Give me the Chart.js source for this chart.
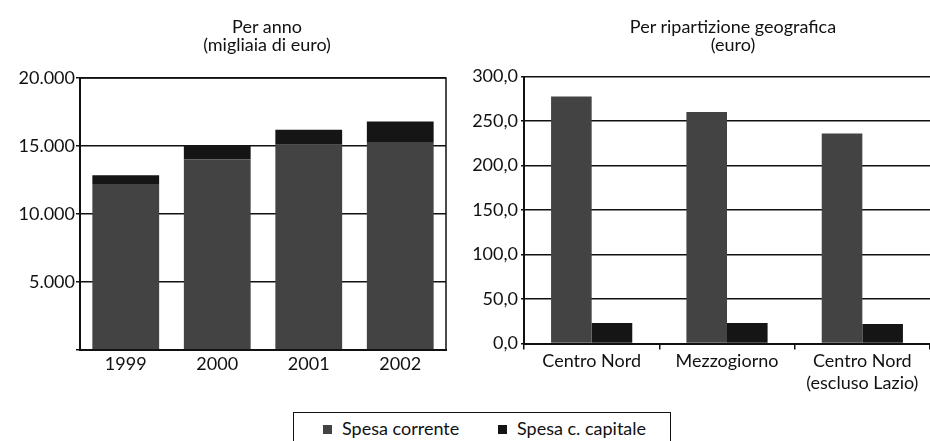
<!DOCTYPE html>
<html>
<head>
<meta charset="utf-8">
<script src="https://cdn.jsdelivr.net/npm/chart.js@4/dist/chart.umd.min.js"></script>
<style>
    body { margin: 0; background: #fff; }
    #wrap { position: relative; width: 930px; height: 441px; overflow: hidden; font-family: Lato, "DejaVu Sans", sans-serif; color: #111; }
    #left { position: absolute; left: 0; top: 0; }
    #right { position: absolute; left: 465px; top: 0; }
    .title {
        position: absolute; top: 17px; width: 300px; margin-left: -150px;
        text-align: center; font-size: 18px; line-height: 18px;
    }
    #legend {
        position: absolute; left: 293px; top: 412px; width: 378px; height: 60px;
        border: 1px solid #111; box-sizing: border-box; font-size: 18px;
    }
    .item { position: absolute; top: 4px; }
    .box { display: inline-block; width: 9px; height: 9px; margin-right: 10px; vertical-align: 1px; }
</style>
</head>
<body>
<div id="wrap">
    <canvas id="left" width="465" height="400"></canvas>
    <canvas id="right" width="465" height="400"></canvas>
    <div class="title" style="left: 267px;">Per anno<br>(migliaia di euro)</div>
    <div class="title" style="left: 733px;">Per ripartizione geografica<br>(euro)</div>
    <div id="legend">
        <span class="item" style="left: 29px;"><span class="box" id="box-corrente"></span>Spesa corrente</span>
        <span class="item" style="left: 204px;"><span class="box" id="box-capitale"></span>Spesa c. capitale</span>
    </div>
</div>
<script>
// Colours
const correnteColor = "#434343";
const capitaleColor = "#151515";
const lineColor = "#111";

// Per anno (migliaia di euro)
const anni = ["1999", "2000", "2001", "2002"];
const annoCorrente = [12200, 14000, 15100, 15300];
const annoCapitale = [650, 1050, 1100, 1500];

// Per ripartizione geografica (euro)
const aree = ["Centro Nord", "Mezzogiorno", ["Centro Nord", "(escluso Lazio)"]];
const areaCorrente = [277.5, 260, 236];
const areaCapitale = [23, 23, 22];

Chart.defaults.font.family = "Lato, 'DejaVu Sans', sans-serif";
Chart.defaults.font.size = 18;
Chart.defaults.color = lineColor;

document.getElementById("box-corrente").style.background = correnteColor;
document.getElementById("box-capitale").style.background = capitaleColor;

// Draws a box around the plot area
const framePlugin = {
    id: "frame",
    afterDraw(chart) {
        const { ctx, chartArea } = chart;
        ctx.save();
        ctx.strokeStyle = lineColor;
        ctx.lineWidth = 1.5;
        ctx.strokeRect(chartArea.left, chartArea.top, chartArea.right - chartArea.left, chartArea.bottom - chartArea.top);
        ctx.restore();
    },
};

const noPlugins = {
    legend: { display: false },
    tooltip: { enabled: false },
};

// Left chart: stacked bars per year
new Chart(document.getElementById("left"), {
    type: "bar",
    data: {
        labels: anni,
        datasets: [
            { label: "Spesa corrente", data: annoCorrente, backgroundColor: correnteColor },
            { label: "Spesa c. capitale", data: annoCapitale, backgroundColor: capitaleColor },
        ],
    },
    options: {
        responsive: false,
        animation: false,
        layout: { padding: { top: 78, left: 0, right: 19, bottom: 0 } },
        datasets: { bar: { barPercentage: 0.73, categoryPercentage: 1 } },
        plugins: noPlugins,
        scales: {
            x: {
                stacked: true,
                grid: { display: false, drawTicks: false },
                border: { color: lineColor, width: 2 },
                ticks: { padding: 3, color: lineColor },
                afterFit: (scale) => { scale.height = 50; },
            },
            y: {
                stacked: true,
                min: 0,
                max: 20000,
                ticks: {
                    stepSize: 5000,
                    padding: 1,
                    color: lineColor,
                    callback: (v) => (v === 0 ? "" : v.toLocaleString("it-IT", { useGrouping: "always" })),
                },
                grid: { color: lineColor, lineWidth: 1.5, tickLength: 4 },
                border: { color: lineColor, width: 2 },
                afterFit: (scale) => { scale.width = 80; },
            },
        },
    },
    plugins: [framePlugin],
});

// Right chart: grouped bars per area
new Chart(document.getElementById("right"), {
    type: "bar",
    data: {
        labels: aree,
        datasets: [
            { label: "Spesa corrente", data: areaCorrente, backgroundColor: correnteColor },
            { label: "Spesa c. capitale", data: areaCapitale, backgroundColor: capitaleColor },
        ],
    },
    options: {
        responsive: false,
        animation: false,
        layout: { padding: { top: 76.5, left: 0, right: 0, bottom: 0 } },
        datasets: { bar: { barPercentage: 1, categoryPercentage: 0.6 } },
        plugins: noPlugins,
        scales: {
            x: {
                grid: { drawOnChartArea: false, color: lineColor, lineWidth: 1.5, tickLength: 6 },
                border: { color: lineColor, width: 2 },
                ticks: { padding: 1, color: lineColor },
                afterFit: (scale) => { scale.height = 56.5; },
            },
            y: {
                min: 0,
                max: 300,
                ticks: {
                    stepSize: 50,
                    padding: 3,
                    color: lineColor,
                    callback: (v) => v.toLocaleString("it-IT", { minimumFractionDigits: 1, maximumFractionDigits: 1 }),
                },
                grid: { color: lineColor, lineWidth: 1.5, tickLength: 3 },
                border: { color: lineColor, width: 2 },
                afterFit: (scale) => { scale.width = 59; },
            },
        },
    },
});
</script>
</body>
</html>
